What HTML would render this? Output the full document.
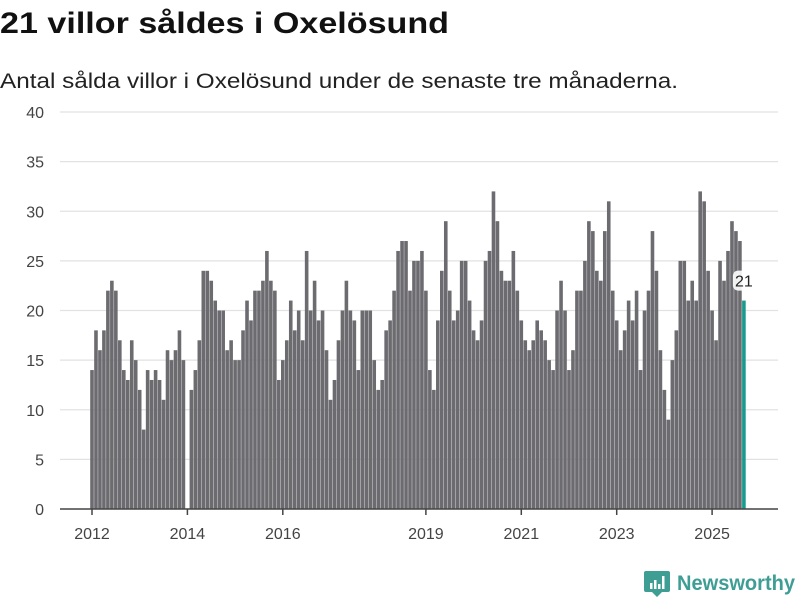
<!DOCTYPE html>
<html><head><meta charset="utf-8"><style>
body{margin:0;background:#fff;}
svg{display:block;font-family:"Liberation Sans","DejaVu Sans",sans-serif;}
</style></head><body>
<svg id="chart" width="800" height="600" viewBox="0 0 800 600">
<text x="0" y="33" font-size="30" font-weight="bold" fill="#111" textLength="449" lengthAdjust="spacingAndGlyphs">21 villor såldes i Oxelösund</text>
<text x="0" y="88" font-size="21" fill="#222" textLength="678" lengthAdjust="spacingAndGlyphs">Antal sålda villor i Oxelösund under de senaste tre månaderna.</text>
<g id="grid"></g>
<g id="yticks"></g>
<g id="bars"></g>
<g id="xaxis"></g>
<g id="ann"></g>
<g>
<path d="M646 571 h22 a2 2 0 0 1 2 2 v17 a2 2 0 0 1 -2 2 h-6 l-5 5 l-5 -5 h-6 a2 2 0 0 1 -2 -2 v-17 a2 2 0 0 1 2 -2z" fill="#3f9e94"/>
<rect x="650" y="583" width="2.5" height="6" fill="#fff"/><rect x="654" y="580" width="2.5" height="9" fill="#fff"/><rect x="658" y="584" width="2.5" height="5" fill="#fff"/><rect x="662" y="576" width="2.5" height="13" fill="#fff"/>
<text x="677" y="590" font-size="21" font-weight="bold" fill="#3f9e94" textLength="118" lengthAdjust="spacingAndGlyphs">Newsworthy</text>
</g>
</svg>
<script>
const startYear = 2012;
const values = [14,18,16,18,22,23,22,17,14,13,17,15,12,8,14,13,14,13,11,16,15,16,18,15,
null,12,14,17,24,24,23,21,20,20,16,17,
15,15,18,21,19,22,22,23,26,23,22,13,
15,17,21,18,20,17,26,20,23,19,20,16,
11,13,17,20,23,20,19,14,20,20,20,15,
12,13,18,19,22,26,27,27,22,25,25,26,
22,14,12,19,24,29,22,19,20,25,25,21,
18,17,19,25,26,32,29,24,23,23,26,22,
19,17,16,17,19,18,17,15,14,20,23,20,
14,16,22,22,25,29,28,24,23,28,31,22,
19,16,18,21,19,22,14,20,22,28,24,16,
12,9,15,18,25,25,21,23,21,32,31,24,
20,17,25,23,26,29,28,27,21];
const yTicks = [0,5,10,15,20,25,30,35,40];
const xTickYears = [2012,2014,2016,2019,2021,2023,2025];

const NS='http://www.w3.org/2000/svg';
const y0=509, pxPerUnit=(509-112)/40;
const xOrigin=92, pxPerMonth=3.975;
function y(v){return y0 - v*pxPerUnit;}
function x(i){return xOrigin + i*pxPerMonth;}
function mk(tag,attrs,parent){const e=document.createElementNS(NS,tag);for(const k in attrs)e.setAttribute(k,attrs[k]);parent.appendChild(e);return e;}
const grid=document.getElementById('grid'), yt=document.getElementById('yticks'), bars=document.getElementById('bars'), xa=document.getElementById('xaxis'), ann=document.getElementById('ann');
yTicks.forEach(t=>{
  if(t>0){const l=mk('line',{x1:60,x2:778,y1:y(t),y2:y(t),stroke:'#e2e2e2','stroke-width':1.2},grid);
  
  }
  const tx=mk('text',{x:44,y:y(t)+6,'font-size':16,fill:'#444','text-anchor':'end'},yt);
  
  
  tx.textContent=t;
});
const last=values.length-1;
values.forEach((v,i)=>{
  if(v===null)return;
  const r=mk('rect',{x:x(i)-1.8,y:y(v),width:3.6,height:v*pxPerUnit,fill:i===last?'#1a9a8f':'#6c6b70'},bars);
  
  
});
const ax=mk('line',{x1:60,x2:778,y1:y0,y2:y0,stroke:'#444','stroke-width':1.5},xa);


xTickYears.forEach(yr=>{
  const xi=x((yr-startYear)*12);
  const tk=mk('line',{x1:xi,x2:xi,y1:y0,y2:y0+6,stroke:'#444','stroke-width':1.5},xa);
  
  
  const tx=mk('text',{x:xi,y:539,'font-size':16,fill:'#444','text-anchor':'middle'},xa);
  
  
  tx.textContent=yr;
});
const lx=x(last), lv=values[last];
const bg=mk('rect',{x:lx-11,y:y(lv)-30,width:22,height:20,rx:5,fill:'#fff',opacity:0.9},ann);


const at=mk('text',{x:lx,y:y(lv)-14,'font-size':16,fill:'#222','text-anchor':'middle'},ann);


at.textContent=lv;
</script>
</body></html>
